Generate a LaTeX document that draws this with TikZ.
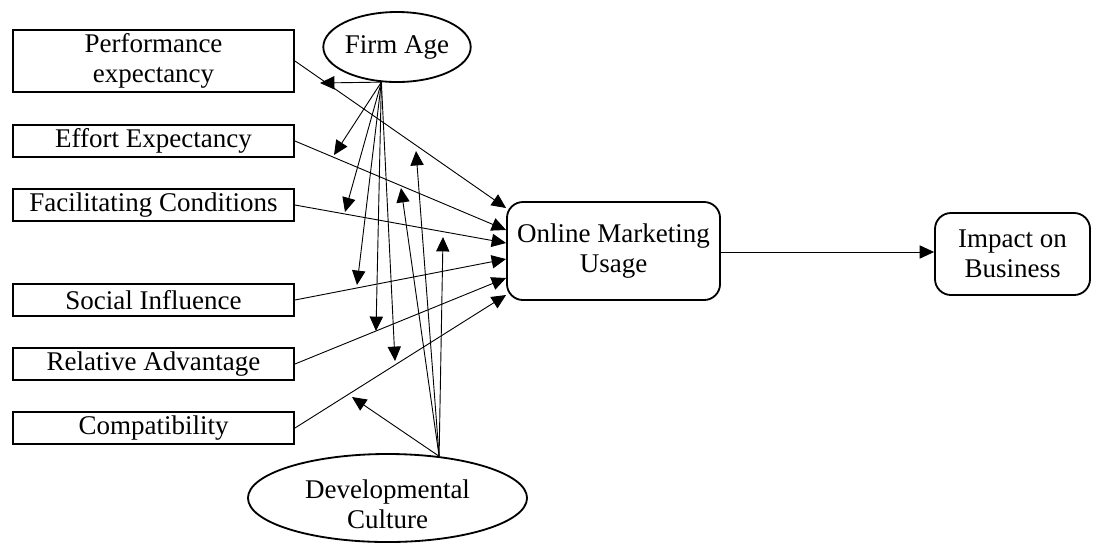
\documentclass[tikz,border=0pt]{standalone}
\usepackage{fontspec}
\setmainfont{Liberation Serif}
\usetikzlibrary{arrows.meta}
\usetikzlibrary{shapes.geometric}

\tikzset{
  factor/.style={draw, line width=1.3pt, minimum width=7.025cm, minimum height=0.8cm, inner sep=0pt, align=center},
  moder/.style={draw, ellipse, line width=1.3pt, inner sep=0pt, align=center},
  outcome/.style={draw, rounded corners=0.4cm, line width=1.3pt, inner sep=0pt, align=center},
  link/.style={line width=0.65pt, -{Triangle[length=0.36cm,width=0.33cm]}}
}

\begin{document}
\begin{tikzpicture}[x=0.025cm,y=-0.025cm,font=\fontsize{19.2}{21}\selectfont]
\useasboundingbox (0,0) rectangle (1095,542);

% determinants
\node[factor, minimum height=1.55cm] (pe) at (153.5,61) {Performance\\expectancy};
\node[factor] (ee) at (153.5,141) {Effort Expectancy};
\node[factor] (fc) at (153.5,205) {Facilitating Conditions};
\node[factor] (si) at (153.5,300) {Social Influence};
\node[factor] (ra) at (153.5,364) {Relative Advantage};
\node[factor] (co) at (153.5,428) {Compatibility};

% moderators
\node[moder, minimum width=3.45cm, minimum height=1.75cm] (fa) at (397,47) {Firm Age};
\node[moder, minimum width=6.975cm, minimum height=2.2cm, text height=1.52cm, text depth=0cm] (dc) at (387.5,498) {Developmental\\Culture};

% outcomes
\node[outcome, minimum width=5.325cm, minimum height=2.45cm] (omu) at (613.5,251) {Online Marketing\\Usage};
\node[outcome, minimum width=3.875cm, minimum height=2.05cm] (ib) at (1012.5,254) {Impact on\\Business};

\foreach \n/\s in {pe/1.075,ee/0.525,fc/0.2,si/-0.2,ra/-0.675,co/-1.1}{
\draw[link] (\n.east) -- ([yshift=\s cm]omu.west);
}
\draw[link] ([yshift=-0.025cm]omu.east) -- ([yshift=-0.025cm]omu.east -| ib.west);

% firm age arrows
\coordinate (fa1) at (320,83);
\coordinate (fa2) at (334,155);
\coordinate (fa3) at (345,212);
\coordinate (fa4) at (357,285);
\coordinate (fa5) at (376,331);
\coordinate (fa6) at (395,361);
\foreach \i in {1,...,6}{
\draw[link] (fa.246) -- (fa\i);
}

% developmental culture arrows
\coordinate (dc1) at (352,397);
\coordinate (dc2) at (443,237);
\coordinate (dc3) at (416,151);
\coordinate (dc4) at (401,188);
\foreach \i in {1,...,4}{
\draw[link] (dc.39) -- (dc\i);
}
\end{tikzpicture}
\end{document}
